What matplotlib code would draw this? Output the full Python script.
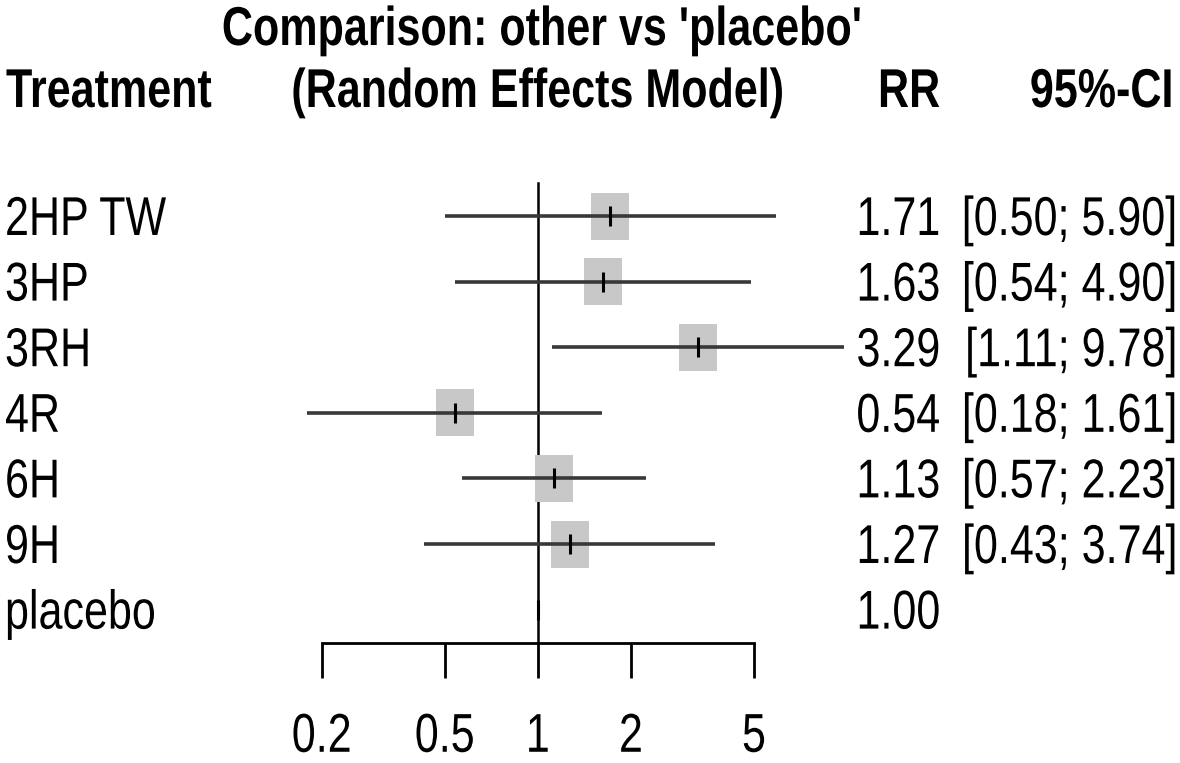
import matplotlib
matplotlib.use("Agg")
import matplotlib.pyplot as plt
from matplotlib.patches import Rectangle
from matplotlib.transforms import blended_transform_factory, Affine2D
from matplotlib.patheffects import AbstractPathEffect
import numpy as np

treatments = ["2HP TW", "3HP", "3RH", "4R", "6H", "9H", "placebo"]
rr = [1.71, 1.63, 3.29, 0.54, 1.13, 1.27, 1.00]
lower = [0.50, 0.54, 1.11, 0.18, 0.57, 0.43, None]
upper = [5.90, 4.90, 9.78, 1.61, 2.23, 3.74, None]
xticks = [0.2, 0.5, 1, 2, 5]
xtick_labels = ["0.2", "0.5", "1", "2", "5"]


class VStretch(AbstractPathEffect):
    """Stretch glyphs vertically about the baseline (condensed look)."""
    def __init__(self, sy):
        super().__init__()
        self.sy = sy

    def draw_path(self, renderer, gc, tpath, affine, rgbFace=None):
        renderer.draw_path(gc, tpath, Affine2D().scale(1.0, self.sy) + affine, rgbFace)


plt.rcParams['font.family'] = ['Liberation Sans', 'DejaVu Sans']
FS = 31
SY = 1.27
pe = [VStretch(SY)]

W, H = 1180, 763
fig = plt.figure(figsize=(W / 100, H / 100), dpi=100)
ax = fig.add_axes([0, 0, 1, 1])
ax.set_xscale('log')
ppd = 309.3  # pixels per decade
x0 = np.log10(0.2) - 321.6 / ppd
x1 = np.log10(0.2) + (W - 321.6) / ppd
ax.set_xlim(10 ** x0, 10 ** x1)
row0, step = 216.0, 65.6
ax.set_ylim((H - row0) / step, -row0 / step)


def ypx(p):
    return (p - row0) / step


for s in ['top', 'right', 'left']:
    ax.spines[s].set_visible(False)
ax.spines['bottom'].set_position(('data', ypx(643)))
ax.spines['bottom'].set_bounds(xticks[0], xticks[-1])
ax.spines['bottom'].set_linewidth(2.0)
ax.set_xticks(xticks)
ax.set_xticklabels(xtick_labels, fontsize=FS)
ax.xaxis.set_minor_locator(matplotlib.ticker.NullLocator())
ax.tick_params(axis='x', direction='out', length=25, width=2.0, pad=31)
for lbl in ax.get_xticklabels():
    lbl.set_path_effects(pe)
ax.set_yticks([])

# reference line at 1
ax.plot([1, 1], [ypx(183), ypx(643)], color='black', lw=1.8, zorder=1)

bw = 10 ** (19 / ppd)
bh = 47 / step
for i, t in enumerate(treatments):
    if lower[i] is not None:
        ax.add_patch(Rectangle((rr[i] / bw, i - bh / 2), rr[i] * bw - rr[i] / bw, bh,
                               facecolor='#c8c8c8', edgecolor='none', zorder=2))
        ax.plot([lower[i], upper[i]], [i, i], color='#383838', lw=2.6, zorder=3,
                solid_capstyle='butt')
    ax.plot([rr[i]], [i], marker='|', color='black', markersize=15, mew=2.2, zorder=4)

tr = blended_transform_factory(fig.transFigure, ax.transData)
base = 19.0 / step  # baseline offset below row centre
for i, t in enumerate(treatments):
    ax.text(5 / W, i + base, t, transform=tr, fontsize=FS, ha='left', va='baseline', path_effects=pe)
    ax.text(940 / W, i + base, f"{rr[i]:.2f}", transform=tr, fontsize=FS, ha='right',
            va='baseline', path_effects=pe)
    if lower[i] is not None:
        ax.text(1177 / W, i + base, f"[{lower[i]:.2f}; {upper[i]:.2f}]", transform=tr,
                fontsize=FS, ha='right', va='baseline', path_effects=pe)

hy = ypx(107)
ty = ypx(45)
bold = dict(transform=tr, fontsize=FS, fontweight='bold', va='baseline', path_effects=pe)
ax.text(6 / W, hy, "Treatment", ha='left', **bold)
ax.text(541 / W, ty, "Comparison: other vs 'placebo'", ha='center', **bold)
ax.text(537 / W, hy, "(Random Effects Model)", ha='center', **bold)
ax.text(940 / W, hy, "RR", ha='right', **bold)
ax.text(1173 / W, hy, "95%-CI", ha='right', **bold)

fig.savefig("out.png", dpi=100, facecolor='white')
